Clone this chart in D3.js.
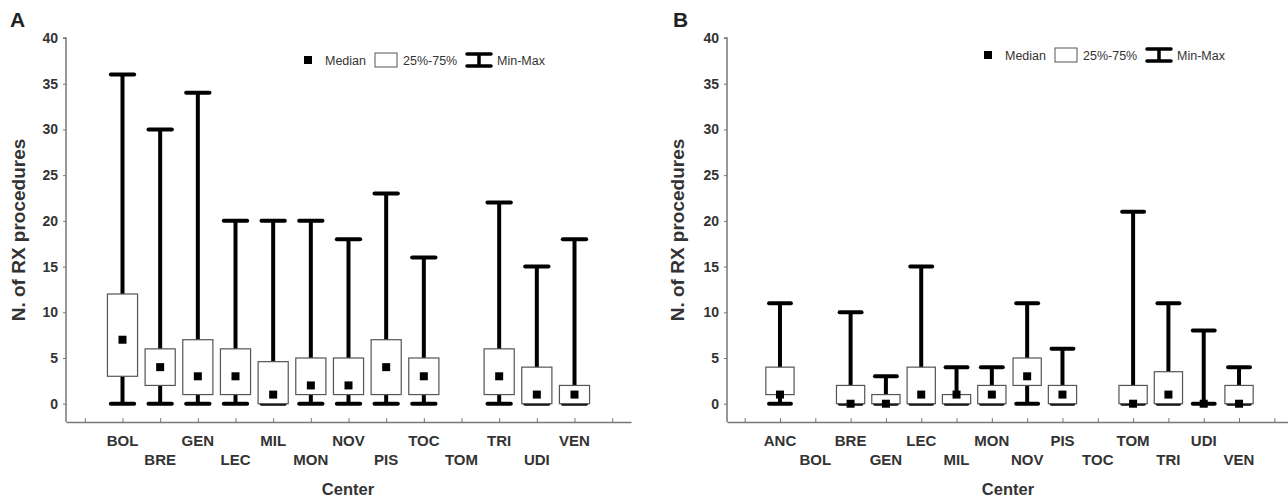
<!DOCTYPE html>
<html>
<head>
<meta charset="utf-8">
<script src="https://cdn.jsdelivr.net/npm/d3@7"></script>
<style>
  body { margin: 0; background: #fff; }
  text { font-family: "Liberation Sans", Arial, sans-serif; }
</style>
</head>
<body>
<div id="chart"></div>
<script>
(function(){
    // panel A
    var centersA = ['BOL','BRE','GEN','LEC','MIL','MON','NOV','PIS','TOC','TOM','TRI','UDI','VEN'];
    var minA     = [0, 0, 0, 0, 0, 0, 0, 0, 0, null, 0, 0, 0];
    var q1A      = [3, 2, 1, 1, 0, 1, 1, 1, 1, null, 1, 0, 0];
    var medA     = [7, 4, 3, 3, 1, 2, 2, 4, 3, null, 3, 1, 1];
    var q3A      = [12, 6, 7, 6, 4.6, 5, 5, 7, 5, null, 6, 4, 2];
    var maxA     = [36, 30, 34, 20, 20, 20, 18, 23, 16, null, 22, 15, 18];

    // panel B
    var centersB = ['ANC','BOL','BRE','GEN','LEC','MIL','MON','NOV','PIS','TOC','TOM','TRI','UDI','VEN'];
    var minB     = [0, null, 0, 0, 0, 0, 0, 0, 0, null, 0, 0, 0, 0];
    var q1B      = [1, null, 0, 0, 0, 0, 0, 2, 0, null, 0, 0, 0, 0];
    var medB     = [1, null, 0, 0, 1, 1, 1, 3, 1, null, 0, 1, 0, 0];
    var q3B      = [4, null, 2, 1, 4, 1, 2, 5, 2, null, 2, 3.5, 0, 2];
    var maxB     = [11, null, 10, 3, 15, 4, 4, 11, 6, null, 21, 11, 8, 4];

    var yTicks = [0, 5, 10, 15, 20, 25, 30, 35, 40];

    var WIDTH  = 1288,
        HEIGHT = 500,
        Y_TOP  = 38,
        Y_ZERO = 404,
        Y_BOT  = 422;

    var svg = d3.select('#chart').append('svg')
        .attr('width', WIDTH)
        .attr('height', HEIGHT);

    function rows(c, mn, q1, md, q3, mx){
        return c.map(function(name, i){
            return { name: name, i: i, min: mn[i], q1: q1[i], med: md[i], q3: q3[i], max: mx[i] };
        });
    }

    function panel(opt){
        var data = rows(opt.centers, opt.min, opt.q1, opt.med, opt.q3, opt.max);
        var n = data.length;

        var y = d3.scaleLinear().domain([-2, 40]).range([Y_BOT, Y_TOP]);
        var x = d3.scaleLinear().domain([-1.5, n + 0.5]).range([opt.x0, opt.x1]);
        var step = x(1) - x(0);
        var boxW = step * 0.8, capW = step * 0.62;

        var g = svg.append('g');

        // panel letter
        g.append('text').attr('x', opt.letterX).attr('y', 27)
            .attr('font-size', 21).attr('font-weight', 'bold').attr('fill', '#222')
            .text(opt.letter);

        // y axis
        var yAxis = g.append('g').attr('transform', 'translate(' + opt.x0 + ',0)')
            .call(d3.axisLeft(y).tickValues(yTicks).tickSize(3).tickPadding(5));
        yAxis.select('.domain').attr('stroke', '#777').attr('stroke-width', 1.5)
            .attr('d', 'M-3,' + y(40) + 'H0V' + y(-2));
        yAxis.selectAll('.tick line').attr('stroke', '#777');
        yAxis.selectAll('.tick text').attr('font-size', 14).attr('font-weight', 'bold')
            .attr('fill', '#333').attr('font-family', '"Liberation Sans", Arial, sans-serif');

        // x axis
        var xt = d3.range(-1, n + 1);
        var xAxis = g.append('g').attr('transform', 'translate(0,' + Y_BOT + ')')
            .call(d3.axisBottom(x).tickValues(xt).tickSize(0).tickFormat(''));
        xAxis.select('.domain').attr('stroke', '#777').attr('stroke-width', 1.5);
        xAxis.selectAll('.tick').append('line').attr('y1', -4).attr('y2', 1)
            .attr('stroke', '#777').attr('stroke-width', 1);

        // category labels, staggered
        g.selectAll('text.cat').data(data).enter().append('text')
            .attr('class', 'cat')
            .attr('x', function(d){ return x(d.i); })
            .attr('y', function(d){ return d.i % 2 === 0 ? 446 : 465; })
            .attr('text-anchor', 'middle')
            .attr('font-size', 15).attr('font-weight', 'bold').attr('fill', '#333')
            .text(function(d){ return d.name; });

        // axis titles
        g.append('text').attr('x', opt.titleX).attr('y', 495)
            .attr('text-anchor', 'middle').attr('font-size', 16.5).attr('font-weight', 'bold')
            .attr('fill', '#333').text('Center');
        g.append('text')
            .attr('transform', 'translate(' + opt.yTitleX + ',230) rotate(-90)')
            .attr('text-anchor', 'middle').attr('font-size', 19).attr('font-weight', 'bold')
            .attr('fill', '#333').text('N. of RX procedures');

        var boxes = data.filter(function(d){ return d.max !== null; });
        var bg = g.selectAll('g.box').data(boxes).enter().append('g').attr('class', 'box');

        bg.append('line')
            .attr('x1', function(d){ return x(d.i); }).attr('x2', function(d){ return x(d.i); })
            .attr('y1', function(d){ return y(d.min); }).attr('y2', function(d){ return y(d.max); })
            .attr('stroke', '#000').attr('stroke-width', 4);
        bg.append('line')
            .attr('x1', function(d){ return x(d.i) - capW / 2; }).attr('x2', function(d){ return x(d.i) + capW / 2; })
            .attr('y1', function(d){ return y(d.max); }).attr('y2', function(d){ return y(d.max); })
            .attr('stroke', '#000').attr('stroke-width', 4).attr('stroke-linecap', 'round');
        bg.append('line')
            .attr('x1', function(d){ return x(d.i) - capW / 2; }).attr('x2', function(d){ return x(d.i) + capW / 2; })
            .attr('y1', function(d){ return y(d.min); }).attr('y2', function(d){ return y(d.min); })
            .attr('stroke', '#000').attr('stroke-width', 4).attr('stroke-linecap', 'round');
        bg.filter(function(d){ return d.q3 > d.q1; }).append('rect')
            .attr('x', function(d){ return x(d.i) - boxW / 2; })
            .attr('y', function(d){ return y(d.q3); })
            .attr('width', boxW)
            .attr('height', function(d){ return y(d.q1) - y(d.q3); })
            .attr('fill', '#fff').attr('stroke', '#555').attr('stroke-width', 1.2);
        bg.append('rect')
            .attr('x', function(d){ return x(d.i) - 4; })
            .attr('y', function(d){ return y(d.med) - 4; })
            .attr('width', 8).attr('height', 8).attr('fill', '#000');

        // legend
        var lg = g.append('g').attr('transform', 'translate(' + opt.legX + ',' + opt.legY + ')');
        lg.append('rect').attr('x', 0).attr('y', -4).attr('width', 8).attr('height', 8).attr('fill', '#000');
        lg.append('text').attr('x', 21).attr('y', 4.5).attr('font-size', 12.5).attr('fill', '#333').text('Median');
        lg.append('rect').attr('x', 71).attr('y', -7).attr('width', 22).attr('height', 14)
            .attr('fill', '#fff').attr('stroke', '#555').attr('stroke-width', 1);
        lg.append('text').attr('x', 99).attr('y', 4.5).attr('font-size', 12.5).attr('fill', '#333').text('25%-75%');
        lg.append('path').attr('d', 'M163,-6H187M175,-6V6M163,6H187')
            .attr('stroke', '#000').attr('stroke-width', 3.5).attr('fill', 'none').attr('stroke-linecap', 'round');
        lg.append('text').attr('x', 193).attr('y', 4.5).attr('font-size', 12.5).attr('fill', '#333').text('Min-Max');
    }

    panel({
        centers: centersA, min: minA, q1: q1A, med: medA, q3: q3A, max: maxA,
        x0: 66, x1: 631, letter: 'A', letterX: 10, titleX: 348, yTitleX: 25,
        legX: 304, legY: 60
    });

    panel({
        centers: centersB, min: minB, q1: q1B, med: medB, q3: q3B, max: maxB,
        x0: 727, x1: 1292, letter: 'B', letterX: 673, titleX: 1008, yTitleX: 684,
        legX: 984, legY: 55
    });
})();
</script>
</body>
</html>
